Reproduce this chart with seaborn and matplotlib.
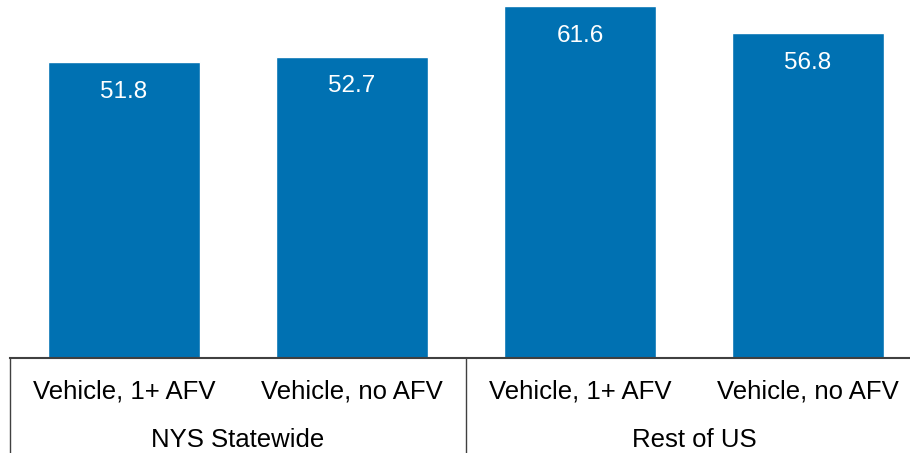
import matplotlib
matplotlib.use("Agg")
import matplotlib.pyplot as plt
import matplotlib.transforms as mtransforms
import pandas as pd
import seaborn as sns

# chart data
groups = ["NYS Statewide", "NYS Statewide", "Rest of US", "Rest of US"]
vehicle_types = ["Vehicle, 1+ AFV", "Vehicle, no AFV", "Vehicle, 1+ AFV", "Vehicle, no AFV"]
values = [51.8, 52.7, 61.6, 56.8]
group_names = ["NYS Statewide", "Rest of US"]

df = pd.DataFrame({"group": groups, "type": vehicle_types, "value": values})
df["key"] = [f"{g}|{t}" for g, t in zip(df["group"], df["type"])]

sns.set_style("white")
plt.rcParams["font.family"] = ["Liberation Sans", "DejaVu Sans"]
plt.rcParams["text.color"] = "black"

fig = plt.figure(figsize=(9.10, 4.53), dpi=100)
ax = fig.add_axes([10 / 910, 95 / 453, 912 / 910, 358 / 453])

sns.barplot(data=df, x="key", y="value", color="#0071B2", saturation=1,
            width=0.667, ax=ax)

ax.set_xlim(-0.5, len(df) - 0.5)
ax.set_ylim(0, 62.65)
ax.set_xlabel("")
ax.set_ylabel("")
ax.set_xticks([])
ax.set_yticks([])
for s in ["top", "right", "left"]:
    ax.spines[s].set_visible(False)
ax.spines["bottom"].set_color("#404040")
ax.spines["bottom"].set_linewidth(1.5)

# value labels inside the bars
for i, v in enumerate(df["value"]):
    ax.annotate(f"{v:.1f}", xy=(i, v), xytext=(0, -35.5), textcoords="offset pixels",
                ha="center", va="baseline", color="white", fontsize=17.5)

# first row of category labels
for i, t in enumerate(df["type"]):
    ax.annotate(t, xy=(i, 0), xycoords=("data", "axes fraction"),
                xytext=(0, -41), textcoords="offset pixels", color="black",
                ha="center", va="baseline", fontsize=18.5, annotation_clip=False)

# group labels and separators
trans = mtransforms.blended_transform_factory(ax.transData, ax.transAxes)
n_per = len(df) // len(group_names)
for gi, g in enumerate(group_names):
    center = gi * n_per + (n_per - 1) / 2
    ax.annotate(g, xy=(center, 0), xycoords=("data", "axes fraction"),
                xytext=(0, -89), textcoords="offset pixels", color="black",
                ha="center", va="baseline", fontsize=18.5, annotation_clip=False)
for b in range(len(group_names) + 1):
    xb = b * n_per - 0.5
    ax.plot([xb, xb], [0, -0.3], transform=trans, color="#404040",
            linewidth=1.0, clip_on=False)

fig.savefig("out.png", dpi=100)
